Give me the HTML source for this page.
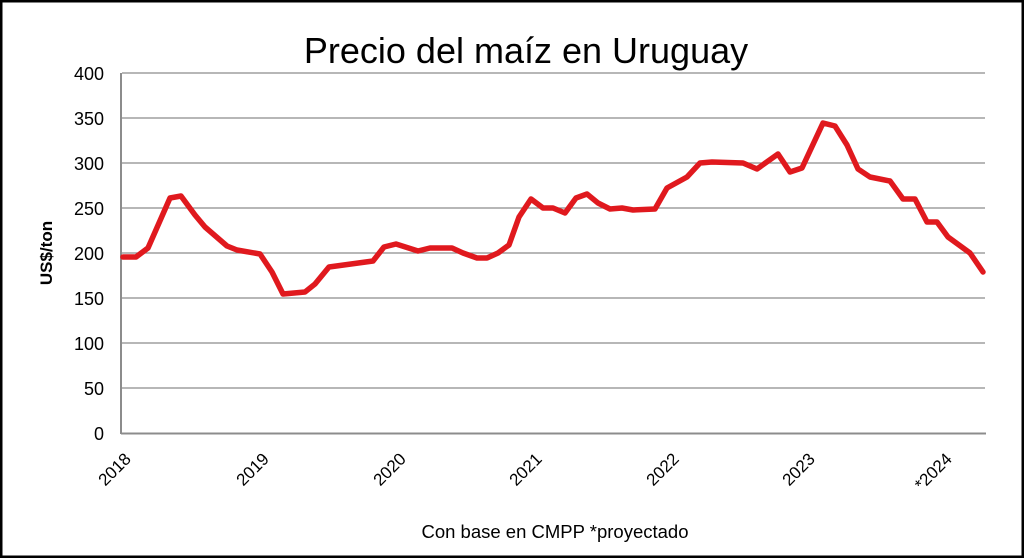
<!DOCTYPE html>
<html><head><meta charset="utf-8"><style>
html,body{margin:0;padding:0;background:#fff;}
svg{display:block;font-family:"Liberation Sans",Arial,sans-serif;}
</style></head><body>
<svg width="1024" height="558" viewBox="0 0 1024 558" xmlns="http://www.w3.org/2000/svg">
<rect x="1" y="1" width="1022" height="556" fill="#fff" stroke="#000" stroke-width="3"/>
<text x="526" y="63" font-size="36" text-anchor="middle" fill="#000">Precio del maíz en Uruguay</text>
<g stroke="#8c8c8c" stroke-width="1.3">
<line x1="122" y1="73" x2="985" y2="73"/>
<line x1="122" y1="118" x2="985" y2="118"/>
<line x1="122" y1="163" x2="985" y2="163"/>
<line x1="122" y1="208" x2="985" y2="208"/>
<line x1="122" y1="253" x2="985" y2="253"/>
<line x1="122" y1="298" x2="985" y2="298"/>
<line x1="122" y1="343" x2="985" y2="343"/>
<line x1="122" y1="388" x2="985" y2="388"/>
</g>
<g stroke="#8c8c8c" stroke-width="2">
<line x1="121" y1="73" x2="121" y2="434"/>
<line x1="121" y1="433.5" x2="986" y2="433.5"/>
</g>
<g font-size="18" text-anchor="end" fill="#000">
<text x="104" y="80">400</text><text x="104" y="125">350</text><text x="104" y="170">300</text>
<text x="104" y="215">250</text><text x="104" y="260">200</text><text x="104" y="305">150</text>
<text x="104" y="350">100</text><text x="104" y="395">50</text><text x="104" y="440">0</text>
</g>
<text transform="translate(52,253) rotate(-90)" font-size="17" font-weight="bold" text-anchor="middle">US$/ton</text>
<g font-size="17" text-anchor="end" fill="#000">
<text transform="translate(132,460) rotate(-45)">2018</text>
<text transform="translate(270,460) rotate(-45)">2019</text>
<text transform="translate(407,460) rotate(-45)">2020</text>
<text transform="translate(543,460) rotate(-45)">2021</text>
<text transform="translate(680,460) rotate(-45)">2022</text>
<text transform="translate(816,460) rotate(-45)">2023</text>
<text transform="translate(953,460) rotate(-45)">*2024</text>
</g>
<text x="555" y="538" font-size="18.5" text-anchor="middle">Con base en CMPP *proyectado</text>
<polyline fill="none" stroke="#e0191e" stroke-width="5.5" stroke-linejoin="round" stroke-linecap="round" points="
123,257 136,257 148,248 170,198 181,196 195,215 205,227 227,246 237,250 260,254 272,272 283,294 305,292 315,284 329,267 373,261 384,247 396,244 418,251 430,248 452,248 463,253 477,258 487,258 498,253 509,245 519,217 531,199 543,208 553,208 565,213 576,198 587,194 598,203 610,209 622,208 633,210 655,209 667,188 687,177 700,163 712,162 743,163 757,169 778,154 790,172 802,168 823,123 835,126 847,145 858,169 870,177 890,181 903,199 915,199 927,222 937,222 948,237 970,253 983,272"/>
</svg>
</body></html>
